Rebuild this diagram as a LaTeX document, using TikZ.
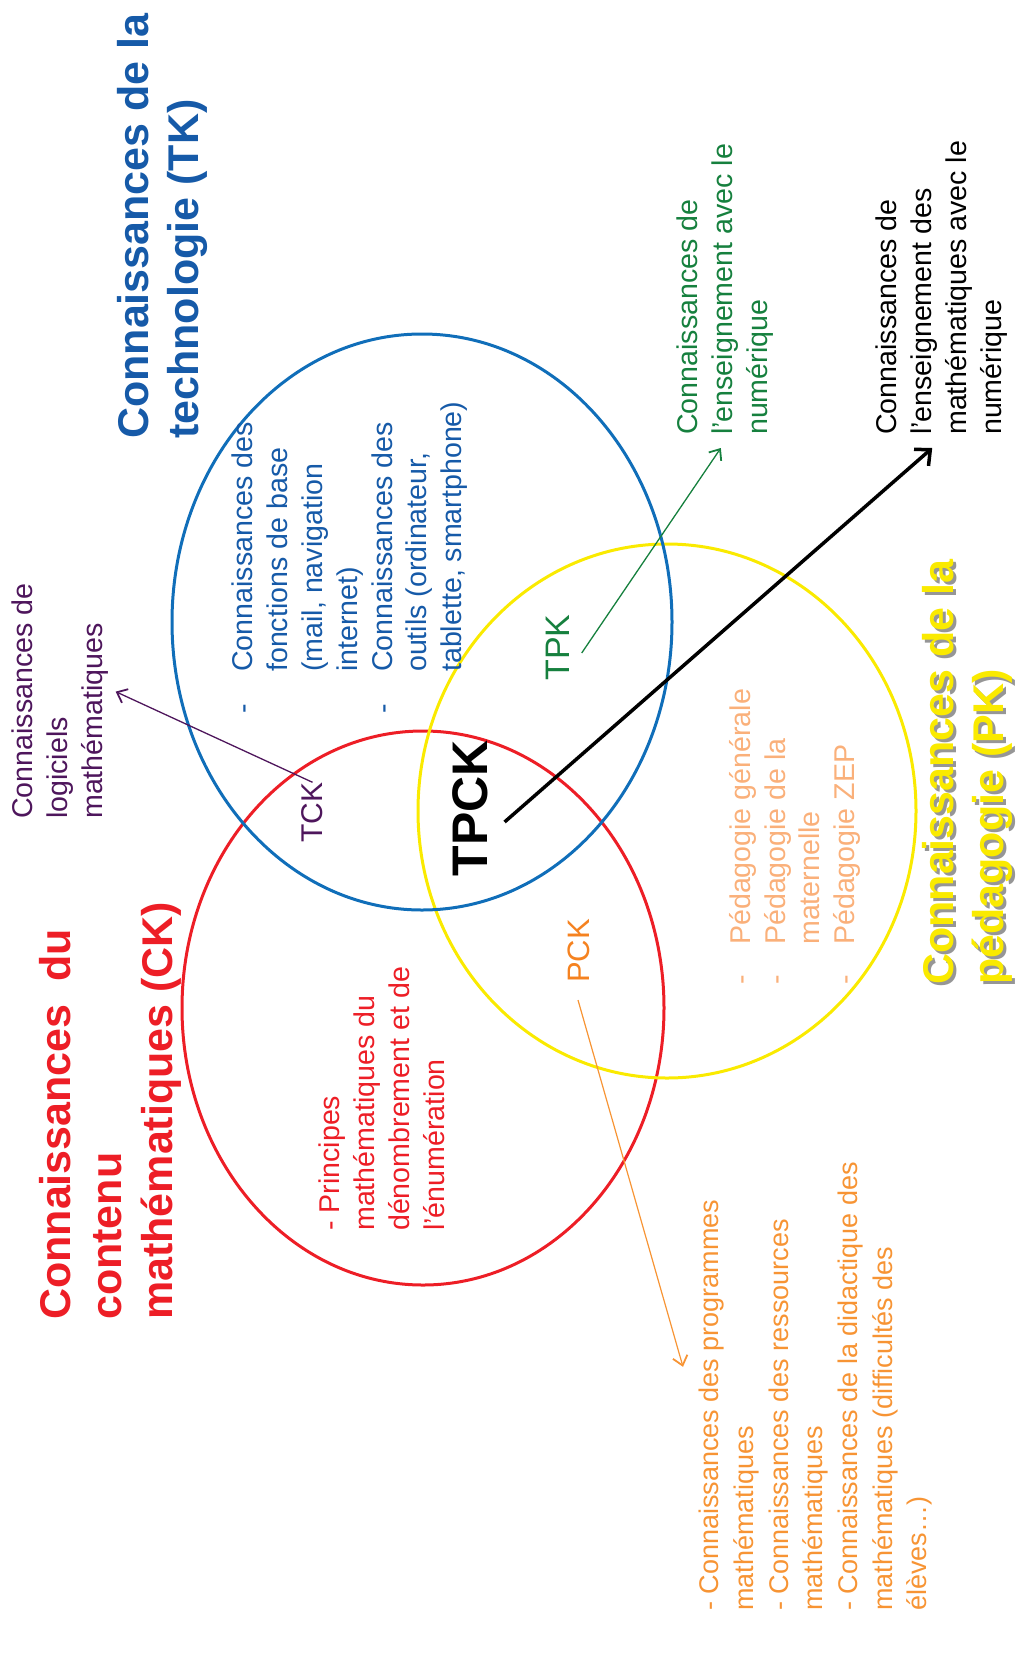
\documentclass[tikz,border=0pt]{standalone}
\usepackage{fontspec}
\setmainfont{Liberation Sans}
\usetikzlibrary{arrows.meta}
\definecolor{tkblue}{RGB}{16,110,185}
\definecolor{tktext}{RGB}{22,90,168}
\definecolor{ckred}{RGB}{237,30,38}
\definecolor{pkyellow}{RGB}{250,234,0}
\definecolor{shadowgray}{RGB}{150,150,150}
\definecolor{tckpurple}{RGB}{78,22,92}
\definecolor{tpkgreen}{RGB}{22,128,62}
\definecolor{pckorange}{RGB}{245,130,32}
\definecolor{pcktext}{RGB}{247,148,52}
\definecolor{pkpeach}{RGB}{250,176,122}
\tikzset{
  venn/.style={line width=3pt},
  title/.style={rotate=90, anchor=north west, inner sep=0pt, align=left, font=\bfseries\fontsize{43}{50}\selectfont},
  body/.style={rotate=90, anchor=north west, inner sep=0pt, align=left, font=\fontsize{28.6}{34.8}\selectfont},
  tag/.style={rotate=90, inner sep=0pt},
  barb/.style={-{Straight Barb[length=9pt,width=15pt,line width=1.8pt]}}
}
\begin{document}
\begin{tikzpicture}[x=1pt,y=-1pt]
\useasboundingbox (0,0) rectangle (1016,1659);

\draw[venn, ckred] (423,1008) ellipse [x radius=241, y radius=277];
\draw[venn, pkyellow] (667,811) ellipse [x radius=249, y radius=267];
\draw[venn, tkblue] (422,622) ellipse [x radius=250, y radius=288];

\node[title, tktext] (tk_title) at (117,439) {Connaissances de la\\technologie (TK)};
\node[title, ckred, font=\bfseries\fontsize{43}{51}\selectfont] (ck_title) at (39,1320)
  {\makebox[391pt][s]{Connaissances du}\\contenu\\mathématiques (CK)};
\node[title, shadowgray] (pk_shadow) at (925,988) {Connaissances de la\\pédagogie (PK)};
\node[title, pkyellow] (pk_title) at (922,985) {Connaissances de la\\pédagogie (PK)};

\node[body, tktext] (tk_body) at (232,672)
  {\llap{-\hspace{32pt}}Connaissances des\\fonctions de base\\(mail, navigation\\internet)\\
   \llap{-\hspace{32pt}}Connaissances des\\outils (ordinateur,\\tablette, smartphone)};
\node[body, ckred] (ck_body) at (319,1231)
  {- Principes\\mathématiques du\\dénombrement et de\\l’énumération};
\node[body, pkpeach] (pk_body) at (729,945)
  {\llap{-\hspace{30pt}}Pédagogie générale\\\llap{-\hspace{30pt}}Pédagogie de la\\maternelle\\
   \llap{-\hspace{30pt}}Pédagogie ZEP};

\node[body, tckpurple] (tck_text) at (12,819) {Connaissances de\\logiciels\\mathématiques};
\node[body, tpkgreen] (tpk_text) at (677,435) {Connaissances de\\l’enseignement avec le\\numérique};
\node[body] (tpck_text) at (876,435)
  {Connaissances de\\l’enseignement des\\mathématiques avec le\\numérique};
\node[body, pcktext, font=\fontsize{27}{34.7}\selectfont] (pck_text) at (699,1611)
  {- Connaissances des programmes\\mathématiques\\- Connaissances des ressources\\mathématiques\\
   - Connaissances de la didactique des\\mathématiques (difficultés des\\élèves…)};

\node[tag, font=\bfseries\fontsize{50}{60}\selectfont] (tpck) at (470,808) {TPCK};
\node[tag, tckpurple, font=\fontsize{30}{36}\selectfont] (tck) at (312.5,812.5) {TCK};
\node[tag, tpkgreen, font=\fontsize{34}{40}\selectfont] (tpk) at (557.5,647.5) {TPK};
\node[tag, pckorange, font=\fontsize{31}{37}\selectfont] (pck) at (579,951) {PCK};

\draw[tckpurple, line width=1.3pt, barb] (tck.east) -- ([shift={(7,-9.5)}]tck_text.south);
\draw[tpkgreen, line width=1.3pt, barb] ([shift={(12.3,5.5)}]tpk.south) -- ([shift={(-4.5,13)}]tpk_text.west);
\draw[line width=3.5pt, -{Straight Barb[length=12pt,width=22pt,line width=3.5pt]}]
  ([shift={(16.7,14)}]tpck.south) -- ([shift={(-9.5,13)}]tpck_text.west);
\draw[pcktext, line width=1.2pt, barb] ([shift={(-1,17)}]pck.west) -- ([shift={(-16,-19.6)}]pck_text.north);
\end{tikzpicture}
\end{document}
